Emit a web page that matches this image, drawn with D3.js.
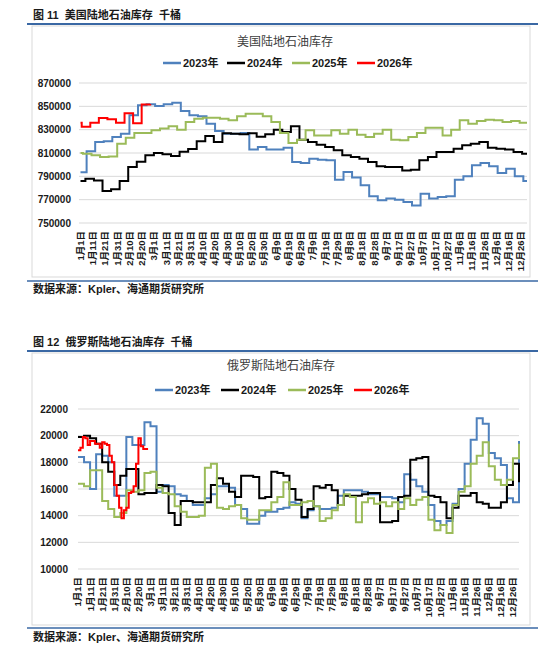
<!DOCTYPE html>
<html>
<head>
<meta charset="utf-8">
<script src="https://cdn.jsdelivr.net/npm/d3@7"></script>
<style>
  body { margin: 0; background: #fff; }
  svg { display: block; }
  text { font-family: "Liberation Sans", Arial, "Noto Sans CJK SC", sans-serif; }
</style>
</head>
<body>
<svg id="page" width="550" height="654"></svg>
<script>
(function () {
  'use strict';
  /* global d3 */

  // ---- data ----
  var years = ['2023年', '2024年', '2025年', '2026年'];
  var colors = ['#4f81bd', '#000000', '#9bbb59', '#ff0000'];

  var dayLabels = ['1月1日', '1月11日', '1月21日', '1月31日', '2月10日', '2月20日', '3月1日',
    '3月11日', '3月21日', '3月31日', '4月10日', '4月20日', '4月30日', '5月10日', '5月20日',
    '5月30日', '6月9日', '6月19日', '6月29日', '7月9日', '7月19日', '7月29日', '8月8日',
    '8月18日', '8月28日', '9月7日', '9月17日', '9月27日', '10月7日', '10月17日', '10月27日',
    '11月6日', '11月16日', '11月26日', '12月6日', '12月16日', '12月26日'];

  // US: weekly figures, first value holds from 1 Jan, then one per report day
  var usFirstReport = [5, 4, 2, 1]; // day of year of first weekly report
  var us2023 = [793400, 811400, 819400, 820000, 823700, 826600, 842300, 850900, 851700, 850300,
    851700, 853100, 846000, 842300, 841400, 835100, 828900, 826600, 826600, 827100,
    812900, 815100, 812900, 812900, 814600, 802300, 801400, 805100, 804300, 803700,
    787100, 793700, 788900, 782300, 772900, 769400, 770900, 770000, 768000, 765100,
    775100, 770900, 772300, 772900, 787100, 790000, 799400, 801400, 798600, 792900,
    796600, 790000, 786000];
  var us2024 = [786000, 788000, 786500, 777500, 779000, 786000, 798000, 802500, 808000, 810000,
    809000, 807500, 811000, 813500, 820000, 824500, 819500, 827000, 826500, 826000,
    827000, 824000, 826000, 830000, 828000, 833000, 821400, 819400, 817100, 815100,
    812300, 808000, 806600, 805100, 802300, 798600, 798000, 798000, 795100, 795700,
    803700, 806600, 810900, 810900, 813700, 816600, 818000, 819400, 814600, 813700,
    812900, 810900, 809400];
  var us2025 = [810000, 809400, 808000, 806600, 807100, 818000, 823100, 827100, 827100, 829400,
    830900, 832900, 830000, 836600, 839400, 840300, 840300, 839400, 838000, 841400,
    843700, 843700, 841400, 836600, 827100, 818600, 821400, 829400, 825100, 825100,
    829400, 826600, 830000, 825700, 823700, 826600, 830000, 821400, 820900, 823700,
    827100, 831700, 831700, 825100, 830000, 838000, 835100, 837400, 838600, 838000,
    836600, 837400, 836000];
  var us2026 = [836000, 832600, 836000, 840000, 839000, 836000, 844000, 835500, 851500, 852000];
  var usTicks = [870000, 850000, 830000, 810000, 790000, 770000, 750000];

  // Russia: sampled every ruStep days (2026 every ruStep2026 days)
  var ruStep = 5,
      ruStep2026 = 2;
  var ru2023 = [18400, 18000, 16000, 18600, 18500, 18000, 15500, 15500, 19900, 19300,
    19300, 21000, 20700, 15800, 16300, 16200, 15600, 15500, 15100, 14800,
    14800, 15300, 15600, 16200, 16200, 16100, 14800, 14500, 13400, 13400,
    14000, 14300, 14300, 14500, 14600, 15000, 14900, 13800, 14400, 14700,
    14500, 14500, 14600, 15500, 15900, 15900, 15900, 15800, 15600, 15600,
    15400, 15400, 15300, 15000, 17100, 16700, 16200, 15800, 14800, 13600,
    13300, 13600, 14900, 16000, 17900, 19700, 21300, 20900, 18700, 18300,
    17800, 15300, 15000, 19600];
  var ru2024 = [19900, 20000, 19800, 19400, 18000, 17300, 16300, 17000, 17500, 17500,
    15600, 15700, 15700, 16300, 16200, 14200, 13300, 15100, 15100, 15000,
    15000, 15000, 16300, 16800, 16400, 15800, 15400, 17000, 17000, 16900,
    15300, 15400, 17300, 17200, 17000, 16000, 15200, 13900, 14500, 16200,
    16100, 16300, 15900, 14800, 15500, 15500, 15500, 15600, 15700, 15700,
    13500, 13500, 13600, 15400, 15500, 18200, 18300, 18400, 15500, 15400,
    15000, 13800, 14600, 15500, 15500, 15700, 15000, 14900, 14600, 14600,
    15000, 16300, 17900, 16500];
  var ru2025 = [16400, 16200, 17400, 17400, 15100, 14500, 13900, 14200, 15900, 15800,
    15900, 17200, 17300, 16100, 15700, 15600, 14700, 14300, 13900, 13900,
    14000, 17600, 17900, 14600, 14500, 14700, 14800, 13800, 13700, 13700,
    14400, 14400, 15000, 15400, 16500, 14800, 14800, 15000, 15100, 14700,
    13600, 13800, 14400, 14800, 15600, 15400, 13500, 15000, 15300, 14900,
    15000, 14700, 15000, 14500, 15300, 14800, 15200, 15400, 13700, 12900,
    13300, 12700, 14800, 15800, 16200, 17900, 18500, 19500, 17700, 16700,
    16300, 16700, 18300, 19400];
  var ru2026 = [18900, 19100, 19900, 19800, 19300, 19600, 19600, 19400, 19400, 19100,
    19500, 19400, 19300, 18500, 18000, 16300, 15500, 14600, 13800, 14400,
    14600, 15700, 15800, 16200, 17900, 19800, 19200, 19000, 19000, 19000];
  var ruTicks = [22000, 20000, 18000, 16000, 14000, 12000, 10000];

  // ---- helpers ----
  function weekly(vals, first, fullYear) {
    var pts = vals.map(function (v, j) {
      return {d: j === 0 ? 0 : first + 7 * (j - 1), v: v};
    });
    if (fullYear) { pts.push({d: 365, v: vals[vals.length - 1]}); }
    return pts;
  }

  function sampled(vals, step) {
    return vals.map(function (v, i) { return {d: Math.min(i * step, 365), v: v}; });
  }

  var svg = d3.select('#page');
  var rule = '#3a68a4';

  function drawChart(c) {
    var g = svg.append('g');

    g.append('text')
      .attr('x', 33).attr('y', c.figY)
      .attr('font-size', 11).attr('font-weight', 'bold')
      .attr('font-family', '"Noto Sans CJK SC", sans-serif')
      .attr('fill', '#1a1a1a')
      .attr('xml:space', 'preserve')
      .text(c.figTitle);

    g.append('line')
      .attr('x1', 27).attr('x2', 538).attr('y1', c.ruleTop).attr('y2', c.ruleTop)
      .attr('stroke', rule).attr('stroke-width', 2);

    g.append('rect')
      .attr('x', 32).attr('y', c.boxTop)
      .attr('width', 498).attr('height', c.boxBottom - c.boxTop)
      .attr('fill', 'none').attr('stroke', '#d9d9d9').attr('stroke-width', 1);

    g.append('line')
      .attr('x1', 27).attr('x2', 538).attr('y1', c.ruleBottom).attr('y2', c.ruleBottom)
      .attr('stroke', rule).attr('stroke-width', 1.5);

    g.append('text')
      .attr('x', 33).attr('y', c.sourceY)
      .attr('font-size', 11).attr('font-weight', 'bold')
      .attr('font-family', '"Noto Sans CJK SC", sans-serif')
      .attr('fill', '#1a1a1a')
      .text('数据来源：Kpler、海通期货研究所');

    g.append('text')
      .attr('x', c.titleX).attr('y', c.titleY)
      .attr('text-anchor', 'middle')
      .attr('font-size', 12)
      .attr('font-family', '"Noto Sans CJK SC", sans-serif')
      .attr('fill', '#404040')
      .text(c.title);

    // legend
    var leg = g.selectAll('g.leg').data(years).enter().append('g')
      .attr('transform', function (d, i) { return 'translate(' + c.legendX[i] + ',' + c.legendY + ')'; });
    leg.append('line')
      .attr('x1', 0).attr('x2', 18).attr('y1', 0).attr('y2', 0)
      .attr('stroke', function (d, i) { return colors[i]; })
      .attr('stroke-width', 2.5);
    leg.append('text')
      .attr('x', 20).attr('y', 0).attr('dy', '0.36em')
      .attr('font-size', 11).attr('font-weight', 'bold').attr('fill', '#1a1a1a')
      .text(function (d) { return d; });

    var x = d3.scaleLinear().domain([0, 365]).range(c.xRange);
    var y = d3.scaleLinear().domain(c.yDomain).range(c.yRange);

    // gridlines + y labels
    g.selectAll('line.grid').data(c.ticks).enter().append('line')
      .attr('x1', c.gridX[0]).attr('x2', c.gridX[1])
      .attr('y1', function (d) { return y(d); }).attr('y2', function (d) { return y(d); })
      .attr('stroke', '#d9d9d9').attr('stroke-width', 1);
    g.selectAll('text.ytick').data(c.ticks).enter().append('text')
      .attr('x', c.yLabelX).attr('y', function (d) { return y(d); })
      .attr('dy', '0.36em').attr('text-anchor', 'end')
      .attr('font-size', 10).attr('font-weight', 'bold').attr('fill', '#1a1a1a')
      .text(function (d) { return d; });

    // x labels, every 10 days, rotated
    g.selectAll('text.xtick').data(dayLabels).enter().append('text')
      .attr('transform', function (d, i) {
        return 'translate(' + x(i * 10) + ',' + c.xLabelTop + ') rotate(-90)';
      })
      .attr('text-anchor', 'end').attr('dy', '0.36em')
      .attr('font-size', 9.5).attr('font-weight', 'bold').attr('fill', '#1a1a1a')
      .text(function (d) { return d; });

    var line = d3.line()
      .x(function (d) { return x(d.d); })
      .y(function (d) { return y(d.v); })
      .curve(d3.curveStepAfter);

    c.series.forEach(function (pts, i) {
      g.append('path')
        .attr('d', line(pts))
        .attr('fill', 'none')
        .attr('stroke', colors[i])
        .attr('stroke-width', c.lineWidth);
    });
  }

  drawChart({
    figTitle: '图 11  美国陆地石油库存  千桶',
    title: '美国陆地石油库存',
    figY: 19, ruleTop: 24, boxTop: 26, boxBottom: 277, ruleBottom: 281, sourceY: 293,
    titleX: 285, titleY: 46, legendY: 63, legendX: [163, 227, 292, 357],
    xRange: [80.5, 527], yDomain: [750000, 870000], yRange: [223, 83],
    gridX: [79, 527], yLabelX: 71, xLabelTop: 231, ticks: usTicks, lineWidth: 2,
    series: [
      weekly(us2023, usFirstReport[0], true),
      weekly(us2024, usFirstReport[1], true),
      weekly(us2025, usFirstReport[2], true),
      weekly(us2026, usFirstReport[3], false)
    ]
  });

  drawChart({
    figTitle: '图 12  俄罗斯陆地石油库存  千桶',
    title: '俄罗斯陆地石油库存',
    figY: 346, ruleTop: 351, boxTop: 353, boxBottom: 625, ruleBottom: 628, sourceY: 641,
    titleX: 281, titleY: 370, legendY: 390, legendX: [155, 221, 288, 354],
    xRange: [78, 519], yDomain: [10000, 22000], yRange: [569, 409],
    gridX: [78, 519], yLabelX: 68, xLabelTop: 577, ticks: ruTicks, lineWidth: 2,
    series: [
      sampled(ru2023, ruStep),
      sampled(ru2024, ruStep),
      sampled(ru2025, ruStep),
      sampled(ru2026, ruStep2026)
    ]
  });
}());
</script>
</body>
</html>
